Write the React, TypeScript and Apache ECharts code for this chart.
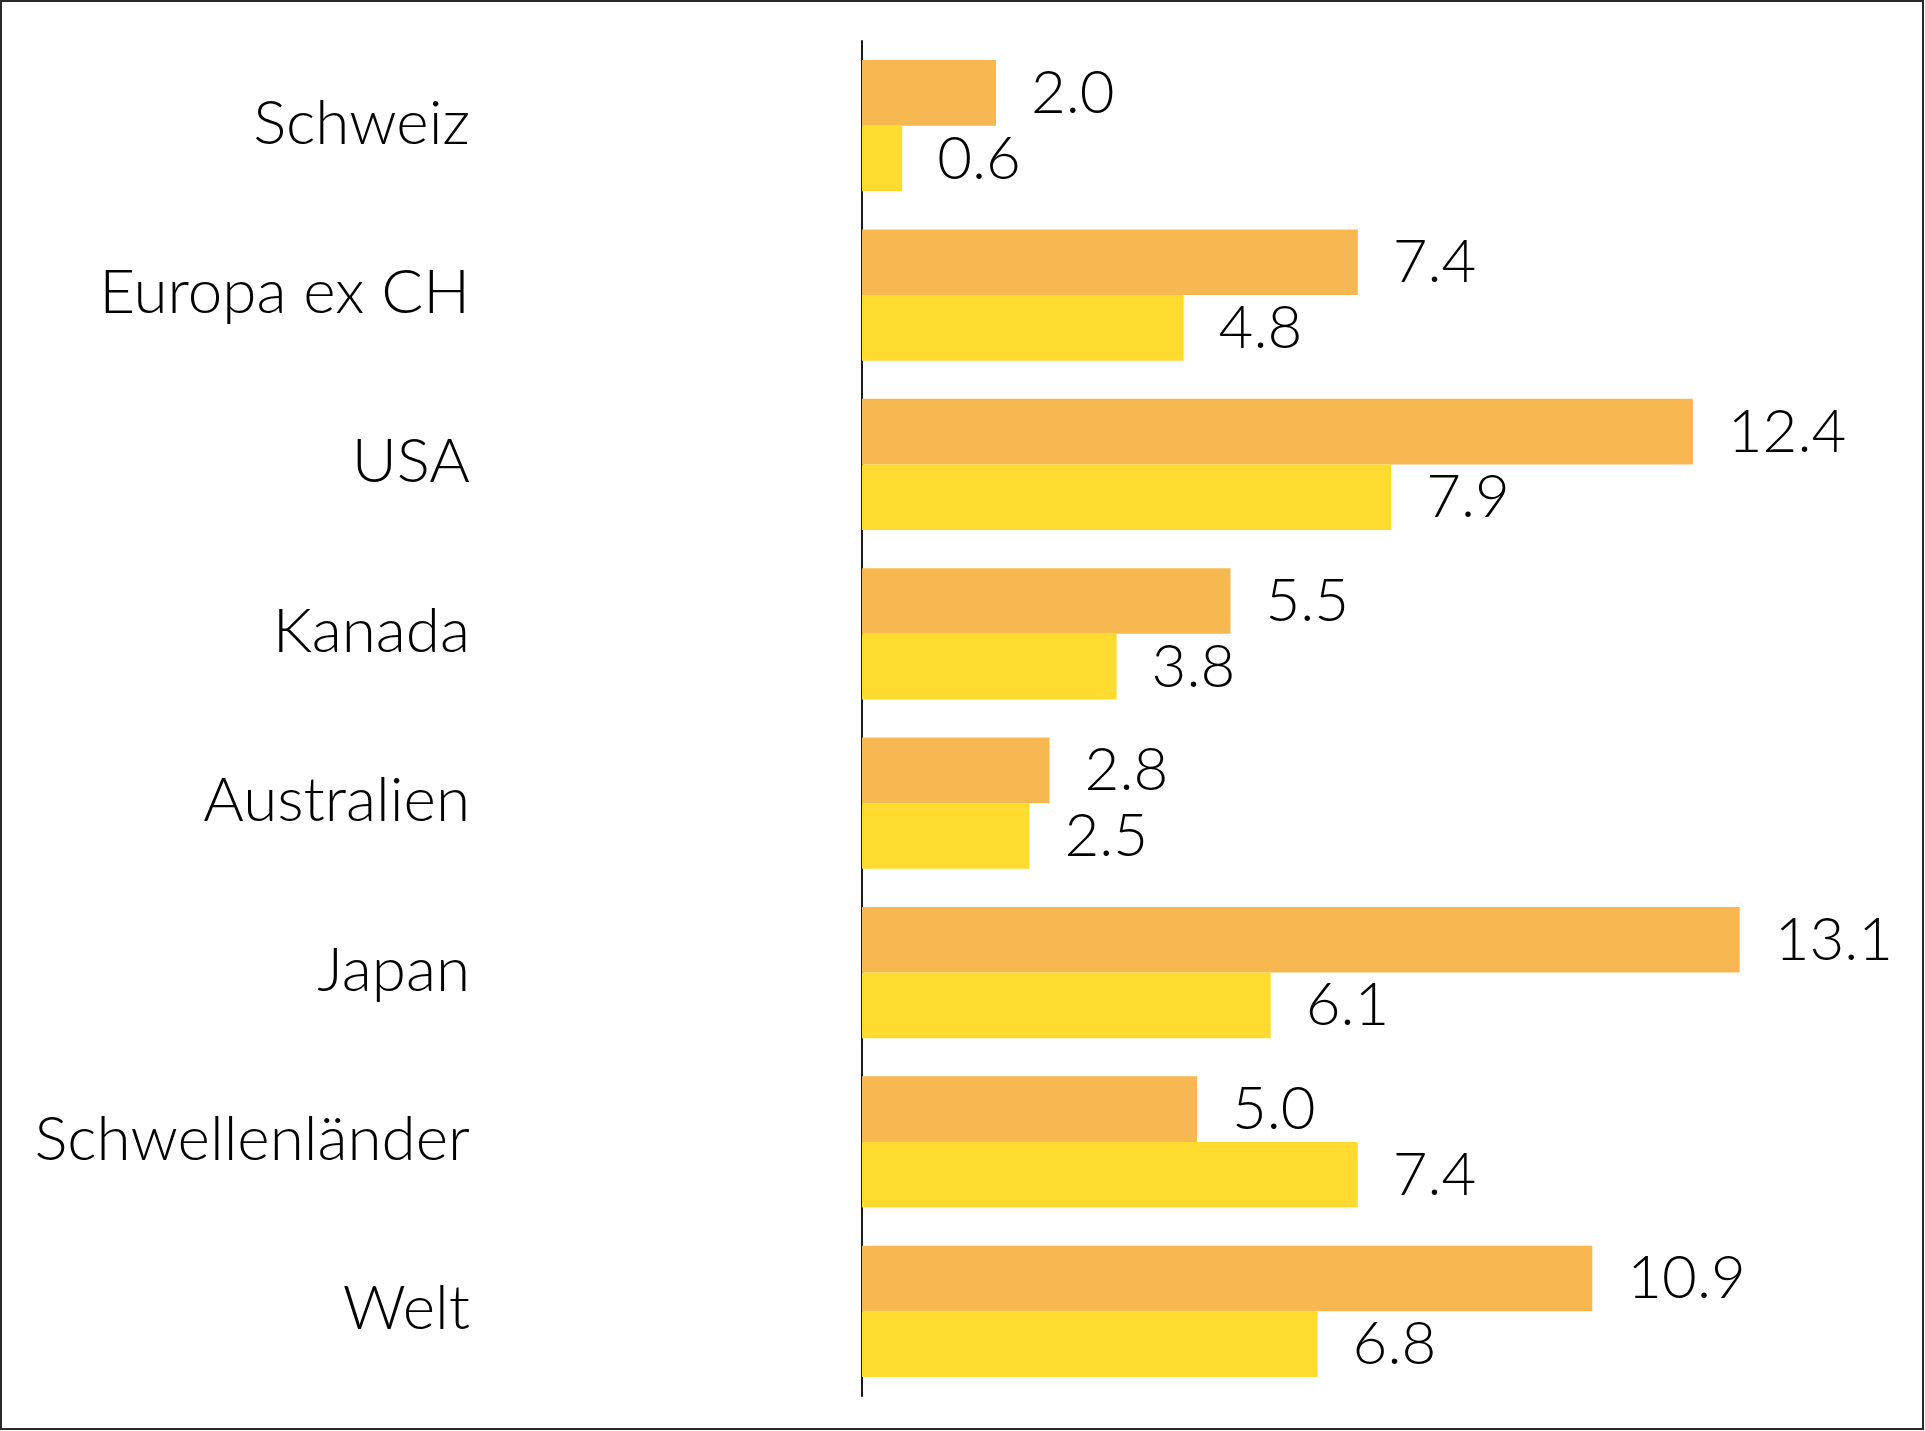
import React, { useEffect, useRef } from "react";
import * as echarts from "echarts";

const categories = [
  "Schweiz",
  "Europa ex CH",
  "USA",
  "Kanada",
  "Australien",
  "Japan",
  "Schwellenländer",
  "Welt",
];
const seriesA = [2.0, 7.4, 12.4, 5.5, 2.8, 13.1, 5.0, 10.9];
const seriesB = [0.6, 4.8, 7.9, 3.8, 2.5, 6.1, 7.4, 6.8];

const FONT = "Lato, 'Open Sans', sans-serif";

export default function App() {
  const ref = useRef<HTMLDivElement>(null);
  useEffect(() => {
    if (!ref.current) return;
    const chart = echarts.init(ref.current, undefined, { renderer: "svg" });
    const label = {
      show: true,
      position: "right" as const,
      distance: 35,
      offset: [0, -3],
      color: "#000",
      fontFamily: FONT,
      fontWeight: 300 as any,
      fontSize: 60,
      formatter: (p: any) => Number(p.value).toFixed(1),
    };
    chart.setOption({
      animation: false,
      backgroundColor: "#fff",
      graphic: [
        {
          type: "rect",
          shape: { x: 1, y: 1, width: 1922, height: 1428 },
          style: { fill: "none", stroke: "#2a2a2a", lineWidth: 2 },
          silent: true,
        },
      ],
      grid: { left: 862, top: 41, right: 58, bottom: 35, containLabel: false },
      xAxis: {
        type: "value",
        min: 0,
        max: 15,
        axisLine: { show: false },
        axisTick: { show: false },
        axisLabel: { show: false },
        splitLine: { show: false },
      },
      yAxis: {
        type: "category",
        data: categories,
        inverse: true,
        axisLine: { show: true, lineStyle: { color: "#1a1a1a", width: 2 } },
        axisTick: { show: false },
        axisLabel: {
          margin: 392,
          align: "right",
          formatter: (v: string) => "{c|" + v + "}",
          rich: {
            c: {
              color: "#000",
              fontFamily: FONT,
              fontWeight: 300 as any,
              fontSize: 62,
              padding: [0, 0, 12, 0],
            },
          },
        },
      },
      series: [
        {
          name: "Reihe 1",
          type: "bar",
          data: seriesA,
          itemStyle: { color: "#F8B851" },
          barGap: "0%",
          barCategoryGap: "22.5%",
          label,
        },
        {
          name: "Reihe 2",
          type: "bar",
          data: seriesB,
          itemStyle: { color: "#FFDB30" },
          barGap: "0%",
          barCategoryGap: "22.5%",
          label,
        },
      ],
    });
    return () => chart.dispose();
  }, []);
  return (
    <div
      ref={ref}
      style={{ position: "absolute", left: 0, top: 0, width: 1925, height: 1431 }}
    />
  );
}
